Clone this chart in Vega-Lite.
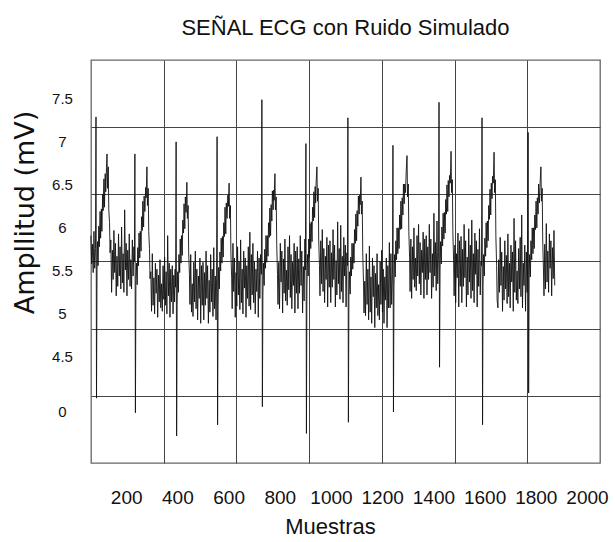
{
  "$schema": "https://vega.github.io/schema/vega-lite/v6.json",
  "autosize": "none",
  "width": 509,
  "height": 403,
  "padding": {"left": 91, "top": 60, "right": 15, "bottom": 79},
  "background": "white",
  "title": {"text": "SEÑAL ECG con Ruido Simulado", "anchor": "middle", "font": "Liberation Sans", "fontSize": 22, "fontWeight": "normal", "color": "#111", "baseline": "alphabetic", "offset": 0, "dy": -3},
  "config": {"view": {"stroke": "#666", "strokeWidth": 1.3}},
  "datasets": {
    "ecg": [
      {"s":62,"v":5.90},{"s":65,"v":5.57},{"s":68,"v":5.80},{"s":71,"v":5.47},{"s":74,"v":5.95},{"s":77,"v":5.52},{"s":80,"v":5.75},
      {"s":82,"v":7.28},{"s":84,"v":4.01},{"s":86,"v":5.50},
      {"s":88,"v":5.83},{"s":90,"v":5.55},{"s":93,"v":6.01},{"s":95,"v":5.77},{"s":98,"v":6.18},{"s":100,"v":5.87},{"s":103,"v":6.21},{"s":105,"v":5.95},{"s":108,"v":6.38},{"s":110,"v":6.19},{"s":113,"v":6.56},{"s":115,"v":6.23},{"s":118,"v":6.62},{"s":120,"v":6.41},{"s":123,"v":6.69},{"s":125,"v":6.85},{"s":127,"v":6.45},{"s":130,"v":6.70},{"s":132,"v":6.20},{"s":135,"v":6.05},{"s":137,"v":5.70},
      {"s":140,"v":5.85},{"s":143,"v":5.24},{"s":146,"v":5.73},{"s":149,"v":5.39},{"s":152,"v":5.96},{"s":155,"v":5.47},{"s":158,"v":5.81},{"s":161,"v":5.20},{"s":164,"v":5.66},{"s":167,"v":5.31},{"s":170,"v":5.92},{"s":173,"v":5.43},{"s":176,"v":5.77},{"s":179,"v":5.28},{"s":182,"v":6.00},{"s":185,"v":5.35},{"s":188,"v":5.69},{"s":191,"v":5.24},{"s":194,"v":6.20},{"s":197,"v":5.50},{"s":200,"v":5.81},{"s":203,"v":5.20},{"s":206,"v":5.73},{"s":209,"v":5.39},{"s":212,"v":5.92},{"s":215,"v":5.31},{"s":218,"v":5.62},{"s":221,"v":5.28},{"s":224,"v":5.85},{"s":227,"v":5.43},{"s":230,"v":5.77},
      {"s":232,"v":5.60},{"s":234,"v":6.85},{"s":236,"v":3.84},{"s":238,"v":5.40},
      {"s":240,"v":5.58},{"s":243,"v":5.33},{"s":245,"v":5.76},{"s":248,"v":5.55},{"s":250,"v":5.93},{"s":253,"v":5.64},{"s":255,"v":5.95},{"s":258,"v":5.72},{"s":260,"v":6.12},{"s":263,"v":5.96},{"s":265,"v":6.30},{"s":268,"v":6.00},{"s":270,"v":6.36},{"s":273,"v":6.18},{"s":276,"v":6.46},{"s":278,"v":6.34},{"s":281,"v":6.70},{"s":283,"v":6.25},{"s":286,"v":6.45},{"s":288,"v":5.95},{"s":291,"v":5.75},{"s":293,"v":5.40},
      {"s":296,"v":5.48},{"s":299,"v":5.02},{"s":302,"v":5.69},{"s":305,"v":5.09},{"s":308,"v":5.41},{"s":311,"v":4.99},{"s":314,"v":5.58},{"s":317,"v":5.23},{"s":320,"v":5.51},{"s":323,"v":4.95},{"s":326,"v":5.44},{"s":329,"v":5.13},{"s":332,"v":5.62},{"s":335,"v":5.06},{"s":338,"v":5.34},{"s":341,"v":5.02},{"s":344,"v":5.55},{"s":347,"v":5.16},{"s":350,"v":5.65},{"s":353,"v":5.09},{"s":356,"v":5.48},{"s":359,"v":4.99},{"s":362,"v":5.90},{"s":365,"v":5.20},{"s":368,"v":5.58},{"s":371,"v":4.95},{"s":374,"v":5.51},{"s":377,"v":5.13},{"s":380,"v":5.55},{"s":383,"v":4.99},{"s":386,"v":5.44},{"s":389,"v":5.13},{"s":391,"v":5.51},
      {"s":393,"v":5.30},{"s":395,"v":6.99},{"s":397,"v":3.57},{"s":399,"v":5.10},
      {"s":401,"v":5.48},{"s":404,"v":5.24},{"s":406,"v":5.68},{"s":409,"v":5.47},{"s":411,"v":5.86},{"s":414,"v":5.58},{"s":416,"v":5.90},{"s":419,"v":5.67},{"s":421,"v":6.08},{"s":424,"v":5.93},{"s":426,"v":6.27},{"s":429,"v":5.98},{"s":431,"v":6.35},{"s":434,"v":6.17},{"s":437,"v":6.52},{"s":439,"v":6.10},{"s":442,"v":6.25},{"s":444,"v":5.70},{"s":447,"v":5.45},{"s":449,"v":5.10},
      {"s":452,"v":5.68},{"s":455,"v":5.01},{"s":458,"v":5.34},{"s":461,"v":4.96},{"s":464,"v":5.59},{"s":467,"v":5.13},{"s":470,"v":5.72},{"s":473,"v":5.05},{"s":476,"v":5.51},{"s":479,"v":4.92},{"s":482,"v":5.43},{"s":485,"v":5.17},{"s":488,"v":5.64},{"s":491,"v":4.88},{"s":494,"v":5.55},{"s":497,"v":5.09},{"s":500,"v":5.59},{"s":503,"v":4.92},{"s":506,"v":5.47},{"s":509,"v":5.09},{"s":512,"v":5.72},{"s":515,"v":5.17},{"s":518,"v":5.55},{"s":521,"v":4.88},{"s":524,"v":5.38},{"s":527,"v":5.01},{"s":530,"v":5.68},{"s":533,"v":5.13},{"s":536,"v":5.51},{"s":539,"v":4.96},{"s":542,"v":5.76},{"s":545,"v":5.05},{"s":548,"v":5.43},{"s":551,"v":4.92},
      {"s":553,"v":5.40},{"s":555,"v":7.05},{"s":557,"v":3.70},{"s":559,"v":5.10},
      {"s":561,"v":5.53},{"s":564,"v":5.28},{"s":566,"v":5.71},{"s":569,"v":5.49},{"s":571,"v":5.87},{"s":574,"v":5.58},{"s":576,"v":5.89},{"s":579,"v":5.65},{"s":581,"v":6.05},{"s":584,"v":5.89},{"s":586,"v":6.23},{"s":589,"v":5.92},{"s":591,"v":6.28},{"s":594,"v":6.10},{"s":597,"v":6.37},{"s":599,"v":6.24},{"s":602,"v":6.51},{"s":604,"v":6.10},{"s":607,"v":6.25},{"s":609,"v":5.70},{"s":612,"v":5.40},{"s":614,"v":5.05},
      {"s":617,"v":5.81},{"s":620,"v":5.25},{"s":623,"v":5.64},{"s":626,"v":4.95},{"s":629,"v":5.47},{"s":632,"v":5.08},{"s":635,"v":5.77},{"s":638,"v":5.21},{"s":641,"v":5.60},{"s":644,"v":5.04},{"s":647,"v":5.85},{"s":650,"v":5.12},{"s":653,"v":5.51},{"s":656,"v":4.99},{"s":659,"v":5.72},{"s":662,"v":5.29},{"s":665,"v":5.64},{"s":668,"v":4.95},{"s":671,"v":5.55},{"s":674,"v":5.17},{"s":677,"v":5.77},{"s":680,"v":5.08},{"s":683,"v":5.94},{"s":686,"v":5.04},{"s":689,"v":5.68},{"s":692,"v":5.21},{"s":695,"v":5.81},{"s":698,"v":5.12},{"s":701,"v":5.60},{"s":704,"v":4.99},{"s":707,"v":5.51},{"s":710,"v":5.25},{"s":713,"v":5.72},{"s":716,"v":4.95},{"s":719,"v":5.64},{"s":722,"v":5.17},{"s":725,"v":5.68},
      {"s":728,"v":5.45},{"s":730,"v":7.48},{"s":732,"v":3.91},{"s":734,"v":5.20},
      {"s":736,"v":5.58},{"s":739,"v":5.32},{"s":741,"v":5.74},{"s":744,"v":5.52},{"s":746,"v":5.90},{"s":749,"v":5.59},{"s":751,"v":5.90},{"s":754,"v":5.66},{"s":756,"v":6.05},{"s":759,"v":5.88},{"s":761,"v":6.22},{"s":764,"v":5.90},{"s":766,"v":6.26},{"s":769,"v":6.07},{"s":771,"v":6.42},{"s":774,"v":6.20},{"s":776,"v":6.43},{"s":778,"v":6.31},{"s":781,"v":6.62},{"s":783,"v":6.20},{"s":786,"v":6.35},{"s":788,"v":5.80},{"s":791,"v":5.45},{"s":793,"v":5.10},
      {"s":796,"v":5.59},{"s":799,"v":5.05},{"s":802,"v":5.81},{"s":805,"v":5.36},{"s":808,"v":5.72},{"s":811,"v":5.00},{"s":814,"v":5.63},{"s":817,"v":5.23},{"s":820,"v":5.86},{"s":823,"v":5.14},{"s":826,"v":5.50},{"s":829,"v":5.09},{"s":832,"v":5.77},{"s":835,"v":5.27},{"s":838,"v":5.90},{"s":841,"v":5.18},{"s":844,"v":5.68},{"s":847,"v":5.05},{"s":850,"v":5.59},{"s":853,"v":5.32},{"s":856,"v":5.81},{"s":859,"v":5.00},{"s":862,"v":5.72},{"s":865,"v":5.23},{"s":868,"v":5.77},{"s":871,"v":5.05},{"s":874,"v":5.63},{"s":877,"v":5.23},{"s":880,"v":5.90},{"s":883,"v":5.32},{"s":886,"v":5.72},{"s":889,"v":5.00},{"s":892,"v":5.54},{"s":895,"v":5.14},{"s":898,"v":5.86},
      {"s":900,"v":5.50},{"s":902,"v":6.97},{"s":904,"v":3.60},{"s":906,"v":5.30},
      {"s":908,"v":5.68},{"s":911,"v":5.43},{"s":913,"v":5.86},{"s":916,"v":5.65},{"s":918,"v":6.04},{"s":921,"v":5.75},{"s":923,"v":6.06},{"s":926,"v":5.83},{"s":928,"v":6.23},{"s":931,"v":6.07},{"s":933,"v":6.41},{"s":936,"v":6.11},{"s":938,"v":6.47},{"s":940,"v":6.28},{"s":942,"v":6.52},{"s":945,"v":6.70},{"s":947,"v":6.30},{"s":950,"v":6.45},{"s":952,"v":5.85},{"s":955,"v":5.55},{"s":957,"v":5.20},
      {"s":960,"v":5.84},{"s":963,"v":5.34},{"s":966,"v":5.97},{"s":969,"v":5.25},{"s":972,"v":5.75},{"s":975,"v":5.12},{"s":978,"v":5.66},{"s":981,"v":5.39},{"s":984,"v":5.88},{"s":987,"v":5.07},{"s":990,"v":5.79},{"s":993,"v":5.30},{"s":996,"v":5.84},{"s":999,"v":5.12},{"s":1002,"v":5.70},{"s":1005,"v":5.30},{"s":1008,"v":5.97},{"s":1011,"v":5.39},{"s":1014,"v":5.79},{"s":1017,"v":5.07},{"s":1020,"v":5.61},{"s":1023,"v":5.21},{"s":1026,"v":6.06},{"s":1029,"v":5.34},{"s":1032,"v":5.75},{"s":1035,"v":5.16},{"s":1038,"v":6.02},{"s":1041,"v":5.25},{"s":1044,"v":5.66},{"s":1047,"v":5.12},{"s":1050,"v":5.88},{"s":1053,"v":5.43},{"s":1056,"v":5.79},{"s":1059,"v":5.07},{"s":1062,"v":5.70},
      {"s":1064,"v":5.55},{"s":1066,"v":7.27},{"s":1068,"v":3.73},{"s":1070,"v":5.20},
      {"s":1072,"v":5.48},{"s":1075,"v":5.22},{"s":1077,"v":5.65},{"s":1080,"v":5.43},{"s":1082,"v":5.81},{"s":1085,"v":5.51},{"s":1087,"v":5.81},{"s":1090,"v":5.58},{"s":1092,"v":5.97},{"s":1095,"v":5.81},{"s":1097,"v":6.15},{"s":1100,"v":5.84},{"s":1102,"v":6.19},{"s":1105,"v":6.01},{"s":1107,"v":6.36},{"s":1110,"v":6.15},{"s":1112,"v":6.37},{"s":1114,"v":6.26},{"s":1117,"v":6.58},{"s":1119,"v":6.15},{"s":1122,"v":6.30},{"s":1124,"v":5.70},{"s":1127,"v":5.35},{"s":1129,"v":5.00},
      {"s":1132,"v":5.37},{"s":1135,"v":4.97},{"s":1138,"v":5.69},{"s":1141,"v":5.10},{"s":1144,"v":5.51},{"s":1147,"v":4.92},{"s":1150,"v":5.78},{"s":1153,"v":5.01},{"s":1156,"v":5.42},{"s":1159,"v":4.88},{"s":1162,"v":5.64},{"s":1165,"v":5.19},{"s":1168,"v":5.55},{"s":1171,"v":4.83},{"s":1174,"v":5.46},{"s":1177,"v":5.06},{"s":1180,"v":5.69},{"s":1183,"v":4.97},{"s":1186,"v":5.33},{"s":1189,"v":4.92},{"s":1192,"v":5.60},{"s":1195,"v":5.10},{"s":1198,"v":5.73},{"s":1201,"v":5.01},{"s":1204,"v":5.51},{"s":1207,"v":4.88},{"s":1210,"v":5.42},{"s":1213,"v":5.15},{"s":1216,"v":5.64},{"s":1219,"v":4.83},{"s":1222,"v":5.55},{"s":1225,"v":5.06},{"s":1228,"v":5.82},{"s":1231,"v":5.06},{"s":1234,"v":5.69},{"s":1237,"v":5.10},
      {"s":1240,"v":5.45},{"s":1242,"v":6.95},{"s":1244,"v":3.85},{"s":1246,"v":5.30},
      {"s":1248,"v":5.68},{"s":1251,"v":5.42},{"s":1253,"v":5.84},{"s":1256,"v":5.62},{"s":1258,"v":5.99},{"s":1261,"v":5.69},{"s":1263,"v":5.99},{"s":1266,"v":5.75},{"s":1268,"v":6.14},{"s":1271,"v":5.97},{"s":1273,"v":6.30},{"s":1276,"v":5.98},{"s":1278,"v":6.34},{"s":1281,"v":6.14},{"s":1283,"v":6.50},{"s":1286,"v":6.27},{"s":1288,"v":6.50},{"s":1291,"v":6.40},{"s":1294,"v":6.66},{"s":1297,"v":6.83},{"s":1299,"v":6.35},{"s":1302,"v":6.50},{"s":1304,"v":5.95},{"s":1307,"v":5.65},{"s":1309,"v":5.25},
      {"s":1312,"v":5.86},{"s":1315,"v":5.17},{"s":1318,"v":5.77},{"s":1321,"v":5.39},{"s":1324,"v":5.99},{"s":1327,"v":5.30},{"s":1330,"v":5.64},{"s":1333,"v":5.26},{"s":1336,"v":5.90},{"s":1339,"v":5.43},{"s":1342,"v":6.03},{"s":1345,"v":5.34},{"s":1348,"v":5.82},{"s":1351,"v":5.21},{"s":1354,"v":5.73},{"s":1357,"v":5.47},{"s":1360,"v":5.94},{"s":1363,"v":5.17},{"s":1366,"v":5.86},{"s":1369,"v":5.39},{"s":1372,"v":5.90},{"s":1375,"v":5.21},{"s":1378,"v":5.77},{"s":1381,"v":5.39},{"s":1384,"v":6.03},{"s":1387,"v":5.47},{"s":1390,"v":5.86},{"s":1393,"v":5.17},{"s":1396,"v":5.69},{"s":1399,"v":5.30},{"s":1402,"v":6.16},{"s":1405,"v":5.43},{"s":1408,"v":5.82},{"s":1411,"v":5.26},{"s":1414,"v":6.07},{"s":1417,"v":5.34},
      {"s":1420,"v":5.70},{"s":1422,"v":7.45},{"s":1424,"v":4.37},{"s":1426,"v":5.50},
      {"s":1428,"v":5.83},{"s":1431,"v":5.57},{"s":1433,"v":6.00},{"s":1436,"v":5.78},{"s":1438,"v":6.16},{"s":1441,"v":5.86},{"s":1443,"v":6.17},{"s":1446,"v":5.93},{"s":1448,"v":6.32},{"s":1451,"v":6.15},{"s":1453,"v":6.49},{"s":1456,"v":6.18},{"s":1458,"v":6.54},{"s":1461,"v":6.35},{"s":1463,"v":6.60},{"s":1466,"v":6.51},{"s":1469,"v":6.88},{"s":1471,"v":6.40},{"s":1474,"v":6.55},{"s":1476,"v":5.95},{"s":1479,"v":5.60},{"s":1481,"v":5.20},
      {"s":1484,"v":5.79},{"s":1487,"v":5.12},{"s":1490,"v":5.69},{"s":1493,"v":5.41},{"s":1496,"v":5.93},{"s":1499,"v":5.07},{"s":1502,"v":5.84},{"s":1505,"v":5.31},{"s":1508,"v":5.89},{"s":1511,"v":5.12},{"s":1514,"v":5.74},{"s":1517,"v":5.31},{"s":1520,"v":6.03},{"s":1523,"v":5.41},{"s":1526,"v":5.84},{"s":1529,"v":5.07},{"s":1532,"v":5.65},{"s":1535,"v":5.21},{"s":1538,"v":5.98},{"s":1541,"v":5.36},{"s":1544,"v":5.79},{"s":1547,"v":5.17},{"s":1550,"v":6.08},{"s":1553,"v":5.26},{"s":1556,"v":5.69},{"s":1559,"v":5.12},{"s":1562,"v":5.93},{"s":1565,"v":5.45},{"s":1568,"v":5.84},{"s":1571,"v":5.07},{"s":1574,"v":5.74},{"s":1577,"v":5.31},{"s":1580,"v":5.98},{"s":1583,"v":5.21},{"s":1586,"v":5.60},
      {"s":1588,"v":5.55},{"s":1590,"v":7.27},{"s":1592,"v":3.70},{"s":1594,"v":5.30},
      {"s":1596,"v":5.68},{"s":1599,"v":5.43},{"s":1601,"v":5.87},{"s":1604,"v":5.66},{"s":1606,"v":6.05},{"s":1609,"v":5.76},{"s":1611,"v":6.07},{"s":1614,"v":5.84},{"s":1616,"v":6.25},{"s":1619,"v":6.09},{"s":1621,"v":6.44},{"s":1624,"v":6.14},{"s":1626,"v":6.51},{"s":1629,"v":6.33},{"s":1631,"v":6.59},{"s":1634,"v":6.51},{"s":1637,"v":6.87},{"s":1639,"v":6.40},{"s":1642,"v":6.55},{"s":1644,"v":5.90},{"s":1647,"v":5.55},{"s":1649,"v":5.15},
      {"s":1652,"v":5.06},{"s":1655,"v":5.62},{"s":1658,"v":5.24},{"s":1661,"v":5.88},{"s":1664,"v":5.32},{"s":1667,"v":5.71},{"s":1670,"v":5.02},{"s":1673,"v":5.54},{"s":1676,"v":5.15},{"s":1679,"v":5.84},{"s":1682,"v":5.28},{"s":1685,"v":5.67},{"s":1688,"v":5.11},{"s":1691,"v":5.92},{"s":1694,"v":5.19},{"s":1697,"v":5.58},{"s":1700,"v":5.06},{"s":1703,"v":5.79},{"s":1706,"v":5.36},{"s":1709,"v":5.71},{"s":1712,"v":5.02},{"s":1715,"v":6.10},{"s":1718,"v":5.24},{"s":1721,"v":5.84},{"s":1724,"v":5.15},{"s":1727,"v":5.49},{"s":1730,"v":5.11},{"s":1733,"v":5.75},{"s":1736,"v":5.28},{"s":1739,"v":5.88},{"s":1742,"v":5.19},{"s":1745,"v":6.14},{"s":1748,"v":5.06},{"s":1751,"v":5.58},{"s":1754,"v":5.32},{"s":1757,"v":5.79},{"s":1760,"v":5.02},{"s":1763,"v":5.71},{"s":1766,"v":5.24},
      {"s":1768,"v":5.50},{"s":1770,"v":7.10},{"s":1772,"v":4.07},{"s":1774,"v":5.40},
      {"s":1776,"v":5.68},{"s":1779,"v":5.42},{"s":1781,"v":5.84},{"s":1784,"v":5.62},{"s":1786,"v":5.99},{"s":1789,"v":5.69},{"s":1791,"v":5.99},{"s":1794,"v":5.75},{"s":1796,"v":6.14},{"s":1799,"v":5.97},{"s":1801,"v":6.30},{"s":1804,"v":5.99},{"s":1806,"v":6.34},{"s":1809,"v":6.15},{"s":1811,"v":6.50},{"s":1814,"v":6.28},{"s":1817,"v":6.52},{"s":1820,"v":6.70},{"s":1822,"v":6.30},{"s":1825,"v":6.45},{"s":1827,"v":5.85},{"s":1830,"v":5.50},{"s":1832,"v":5.20},
      {"s":1835,"v":5.80},{"s":1838,"v":5.28},{"s":1841,"v":6.04},{"s":1844,"v":5.36},{"s":1847,"v":5.72},{"s":1850,"v":5.24},{"s":1853,"v":5.92},{"s":1856,"v":5.52},{"s":1859,"v":5.84},{"s":1862,"v":5.20},{"s":1865,"v":5.76},{"s":1868,"v":5.40},{"s":1871,"v":5.96},{"s":1874,"v":5.32}
    ]
  },
  "data": {"name": "ecg"},
  "layer": [
    {
      "mark": {"type": "line", "opacity": 0},
      "encoding": {
        "x": {"field": "s", "type": "quantitative", "scale": {"domain": [62.5, 2050.8], "nice": false, "zero": false},
          "axis": {"orient": "top", "values": [346.5, 630.5, 914.6, 1198.7, 1482.7, 1766.8], "grid": true, "gridColor": "#444", "gridWidth": 1, "gridOpacity": 1, "labels": false, "ticks": false, "domain": false, "title": null}},
        "y": {"field": "v", "type": "quantitative", "scale": {"domain": [3.256, 7.942], "nice": false, "zero": false},
          "axis": {"orient": "right", "values": [7.161, 6.38, 5.599, 4.818, 4.037], "grid": true, "gridColor": "#444", "gridWidth": 1, "gridOpacity": 1, "labels": false, "ticks": false, "domain": false, "title": null}}
      }
    },
    {
      "mark": {"type": "line", "color": "#111111", "strokeWidth": 0.9},
      "encoding": {
        "x": {"field": "s", "type": "quantitative",
          "axis": {"orient": "bottom", "values": [200, 400, 600, 800, 1000, 1200, 1400, 1600, 1800, 2000], "format": "d", "grid": false, "ticks": false, "tickSize": 0, "domain": false,
            "labelFont": "Liberation Sans", "labelFontSize": 19, "labelColor": "#111", "labelBaseline": "alphabetic", "labelPadding": 40, "labelFlush": false, "labelOverlap": false,
            "title": "Muestras", "titleFont": "Liberation Sans", "titleFontSize": 22, "titleFontWeight": "normal", "titleColor": "#111", "titleX": 239, "titleY": 70, "titleAnchor": null, "titleAlign": "center", "titleBaseline": "alphabetic"}},
        "y": {"field": "v", "type": "quantitative",
          "axis": {"orient": "left", "values": [7.5, 7, 6.5, 6, 5.5, 5, 4.5, 3.85], "labelExpr": "datum.value < 4 ? '0' : format(datum.value, '~g')", "grid": false, "ticks": false, "tickSize": 0, "domain": false,
            "labelFont": "Liberation Sans", "labelFontSize": 15, "labelColor": "#111", "labelAlign": "center", "labelPadding": 29, "labelOverlap": false, "labelFlush": false,
            "title": "Ampllitud (mV)", "titleFont": "DejaVu Sans", "titleFontSize": 27, "titleFontWeight": "normal", "titleColor": "#111", "titleAngle": -90, "titleX": -58, "titleY": 152, "titleAlign": "center", "titleBaseline": "alphabetic", "titleAnchor": null}}
      }
    }
  ],
  "resolve": {"axis": {"x": "independent", "y": "independent"}}
}
